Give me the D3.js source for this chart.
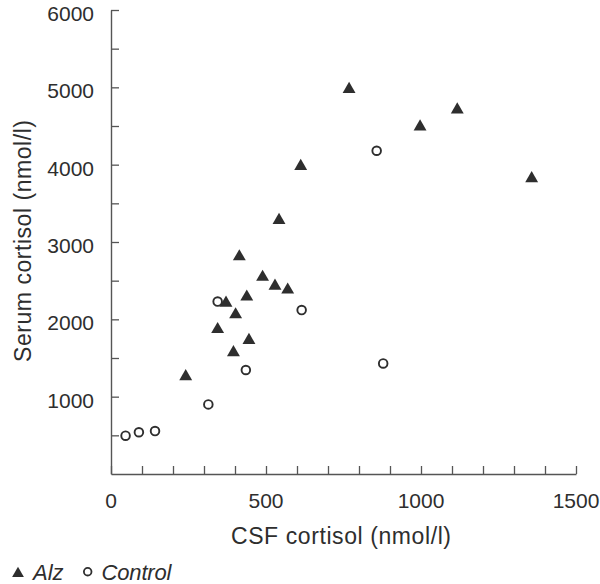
<!DOCTYPE html>
<html>
<head>
<meta charset="utf-8">
<script src="https://cdn.jsdelivr.net/npm/d3@7"></script>
<style>
  body { margin: 0; background: #fff; }
  svg { display: block; font-family: "Liberation Sans", Arial, Helvetica, sans-serif; }
</style>
</head>
<body>
<script>
// Alzheimer's group: CSF cortisol (nmol/l), serum cortisol (nmol/l)
const alzCSF   = [241, 344, 371, 395, 402, 414, 438, 445, 489, 529, 542, 570, 612, 768, 997, 1117, 1357];
const alzSerum = [1280, 1890, 2230, 1590, 2080, 2830, 2310, 1750, 2565, 2450, 3300, 2400, 4000, 4995, 4510, 4730, 3840];
// Control group
const ctlCSF   = [47, 90, 142, 314, 344, 435, 615, 857, 878];
const ctlSerum = [495, 540, 555, 900, 2230, 1345, 2120, 4180, 1430];

const xTickLabels = [0, 500, 1000, 1500];
const yTickLabels = [1000, 2000, 3000, 4000, 5000, 6000];
const xMinorTicks = d3.range(0, 1501, 100);
const yMinorTicks = d3.range(0, 6001, 500);
const legendLabels = ["Alz", "Control"];

const W = 600, H = 584;
const mLeft = 111, mRight = 576, mTop = 10, mBottom = 474;
const ink = "#2e2e2e", axisCol = "#555";

const svg = d3.select("body").append("svg").attr("width", W).attr("height", H);

const x = d3.scaleLinear().domain([0, 1500]).range([mLeft, mRight]);
const y = d3.scaleLinear().domain([0, 6000]).range([mBottom, mTop]);

// Axes (ticks point inward)
const xAxis = d3.axisBottom(x).tickValues(xMinorTicks).tickSize(-8).tickSizeOuter(0).tickFormat("");
const yAxis = d3.axisLeft(y).tickValues(yMinorTicks.filter(v => v > 0)).tickSize(-8).tickSizeOuter(0).tickFormat("");

const gx = svg.append("g").attr("transform", `translate(0,${mBottom})`).call(xAxis);
const gy = svg.append("g").attr("transform", `translate(${mLeft},0)`).call(yAxis);
[gx, gy].forEach(g => {
  g.select(".domain").attr("stroke", axisCol).attr("stroke-width", 1.4);
  g.selectAll(".tick line").attr("stroke", axisCol).attr("stroke-width", 1.3);
});

// Tick labels
svg.append("g").selectAll("text").data(xTickLabels).join("text")
  .attr("x", d => x(d)).attr("y", mBottom + 33.5)
  .attr("text-anchor", "middle").attr("font-size", 21).attr("fill", ink)
  .text(d => d);
svg.append("g").selectAll("text").data(yTickLabels).join("text")
  .attr("x", 94).attr("y", d => y(d) + 11)
  .attr("text-anchor", "end").attr("font-size", 21).attr("fill", ink)
  .text(d => d);

// Axis titles
svg.append("text")
  .attr("x", 341).attr("y", 543.5).attr("text-anchor", "middle")
  .attr("font-size", 23).attr("fill", ink)
  .attr("textLength", 220).attr("lengthAdjust", "spacing")
  .text("CSF cortisol (nmol/l)");
svg.append("text")
  .attr("transform", "translate(31,241) rotate(-90)").attr("text-anchor", "middle")
  .attr("font-size", 23).attr("fill", ink)
  .attr("textLength", 242).attr("lengthAdjust", "spacing")
  .text("Serum cortisol (nmol/l)");

// Points
const tri = d3.symbol().type(d3.symbolTriangle).size(72);
const alz = alzCSF.map((v, i) => ({ x: v, y: alzSerum[i] }));
const ctl = ctlCSF.map((v, i) => ({ x: v, y: ctlSerum[i] }));

svg.append("g").selectAll("path").data(alz).join("path")
  .attr("d", tri)
  .attr("transform", d => `translate(${x(d.x)},${y(d.y) + 1.5})`)
  .attr("fill", ink);

svg.append("g").selectAll("circle").data(ctl).join("circle")
  .attr("cx", d => x(d.x)).attr("cy", d => y(d.y)).attr("r", 4.3)
  .attr("fill", "none").attr("stroke", ink).attr("stroke-width", 1.9);

// Legend
const lg = svg.append("g");
lg.append("path").attr("d", d3.symbol().type(d3.symbolTriangle).size(60))
  .attr("transform", "translate(18,573.5)").attr("fill", ink);
lg.append("text").attr("x", 33).attr("y", 580).attr("font-size", 22)
  .attr("font-style", "italic").attr("fill", ink).text(legendLabels[0]);
lg.append("circle").attr("cx", 87.7).attr("cy", 571.7).attr("r", 3.8)
  .attr("fill", "none").attr("stroke", ink).attr("stroke-width", 1.8);
lg.append("text").attr("x", 101.5).attr("y", 580).attr("font-size", 22)
  .attr("font-style", "italic").attr("fill", ink)
  .attr("textLength", 70).attr("lengthAdjust", "spacing").text(legendLabels[1]);
</script>
</body>
</html>
